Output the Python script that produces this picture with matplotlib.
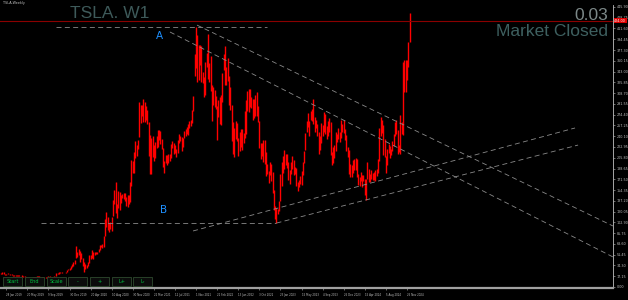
import numpy as np
import pandas as pd
import matplotlib
matplotlib.use("Agg")
import matplotlib.pyplot as plt
from matplotlib.patches import Rectangle

# weekly (low, high) of TSLA
bars_2019 = [(19.9, 22.4), (20.9, 23.3), (19.9, 23.2), (19.3, 20.6), (19.0, 21.3), (20.2, 21.6),
             (20.0, 20.8), (19.5, 20.7), (18.9, 20.3), (18.3, 19.3), (18.2, 19.5), (17.3, 18.6),
             (17.5, 18.8), (17.3, 19.3), (17.7, 18.6), (17.4, 18.3), (16.2, 18.4), (15.9, 17.3),
             (15.2, 17.2), (13.8, 16.2), (12.9, 14.3), (11.8, 13.4), (12.2, 14.0), (13.5, 14.6),
             (14.3, 15.2), (14.3, 15.3), (14.6, 16.2), (15.2, 16.8), (16.2, 17.6), (14.7, 17.5),
             (15.2, 16.3), (14.6, 16.0), (14.2, 15.3), (13.8, 15.0), (14.2, 15.2), (14.6, 15.8),
             (15.3, 16.8), (15.6, 16.9), (15.2, 16.5), (14.9, 16.2), (15.5, 16.8), (16.8, 17.9),
             (16.9, 22.6), (20.4, 21.9), (20.7, 23.1), (22.1, 23.6), (21.5, 24.1), (21.8, 22.6),
             (21.6, 23.0), (22.4, 24.4), (24.0, 27.3), (27.1, 29.0)]
bars_2020 = [(27.4, 30.3), (29.3, 33.0), (32.0, 35.9), (33.6, 39.6), (35.9, 43.5), (46.2, 64.6),
             (48.0, 55.2), (50.7, 61.2), (40.5, 57.8), (44.5, 54.4), (33.5, 46.5), (23.4, 40.5),
             (28.0, 37.3), (29.8, 35.6), (33.1, 40.5), (38.6, 51.3), (44.8, 51.0), (45.9, 58.5),
             (45.3, 55.0), (51.5, 55.4), (52.0, 55.5), (52.7, 56.3), (55.4, 60.6), (58.3, 67.0),
             (63.2, 67.5), (61.3, 67.7), (64.0, 81.0), (80.5, 108.9), (95.0, 119.7), (91.1, 111.6),
             (88.0, 102.2), (93.0, 103.6), (88.6, 111.8), (112.5, 137.9), (132.6, 154.6), (117.3, 167.5),
             (110.0, 132.0), (126.4, 152.6), (121.9, 151.9), (133.1, 146.7), (141.0, 148.5), (140.0, 149.6),
             (136.7, 149.8), (128.8, 142.6), (127.6, 146.7), (132.8, 146.7), (136.0, 167.5), (161.5, 202.3),
             (182.0, 201.4), (181.0, 215.4), (206.0, 232.4), (208.7, 226.0), (220.4, 233.7)]
bars_2021 = [(239.1, 294.8), (261.0, 290.1), (272.3, 289.0), (262.0, 300.1), (263.3, 294.0), (266.0, 288.7),
             (259.0, 282.2), (208.3, 262.6), (179.8, 241.8), (180.0, 237.4), (206.6, 240.1), (200.0, 225.6),
             (205.0, 231.3), (222.0, 240.4), (222.2, 250.0), (233.3, 249.6), (227.3, 248.7), (219.5, 235.3),
             (190.6, 222.0), (182.3, 201.4), (197.2, 210.3), (195.0, 210.5), (197.7, 212.2), (200.0, 211.0),
             (206.0, 228.0), (221.7, 232.2), (211.0, 229.4), (213.1, 226.0), (206.8, 219.0), (214.0, 233.3),
             (228.6, 243.3), (233.2, 240.0), (216.3, 239.5), (222.3, 238.0), (236.9, 247.6), (240.5, 251.5),
             (243.3, 255.2), (242.2, 259.0), (252.5, 264.2), (256.3, 265.2), (260.6, 281.1), (280.7, 304.9),
             (336.5, 371.7), (349.2, 414.5), (326.2, 401.0), (330.0, 385.7), (353.0, 386.1), (326.3, 384.3),
             (325.0, 342.0), (302.0, 334.5), (305.3, 358.3), (351.0, 371.9)]
bars_2022 = [(331.3, 402.7), (326.0, 357.3), (312.5, 367.3), (264.0, 321.7), (290.0, 318.5), (286.3, 313.0),
             (283.1, 304.5), (233.3, 287.8), (270.4, 298.0), (260.2, 302.7), (258.0, 306.3), (294.0, 340.6),
             (345.2, 371.6), (322.0, 384.3), (321.0, 350.6), (327.8, 364.1), (290.3, 335.7), (282.5, 318.5),
             (233.0, 290.0), (212.0, 262.0), (206.9, 253.3), (235.0, 264.2), (233.0, 261.9), (208.7, 237.2),
             (217.1, 247.0), (222.3, 252.1), (218.0, 252.0), (228.5, 244.7), (237.2, 280.8), (243.4, 298.3),
             (280.4, 311.9), (279.3, 314.7), (286.8, 314.7), (285.0, 302.9), (266.2, 299.0), (268.8, 299.9),
             (271.8, 305.5), (271.6, 309.7), (262.5, 288.5), (221.9, 264.6), (203.5, 229.5), (208.0, 229.8),
             (198.6, 233.8), (196.2, 234.6), (177.1, 214.8), (180.2, 196.2), (166.2, 185.2), (178.6, 199.0),
             (168.3, 196.2), (150.0, 182.5), (122.3, 155.2), (108.2, 128.6)]
bars_2023 = [(101.8, 125.9), (115.6, 124.1), (121.0, 136.7), (137.0, 180.7), (161.0, 199.0), (181.0, 207.8),
             (187.6, 217.6), (195.0, 211.0), (189.4, 211.2), (169.8, 198.6), (163.9, 186.2), (180.0, 199.3),
             (188.1, 207.8), (179.1, 202.7), (180.1, 190.7), (160.7, 189.7), (152.4, 166.9), (158.8, 170.4),
             (164.3, 177.1), (163.1, 184.7), (179.0, 198.6), (197.2, 217.3), (218.7, 245.2), (246.3, 263.6),
             (254.6, 277.0), (240.5, 264.5), (265.6, 281.0), (264.6, 284.2), (259.6, 299.3), (247.4, 270.6),
             (253.0, 266.5), (240.2, 259.0), (212.4, 246.3), (217.4, 240.8), (230.0, 261.2), (241.0, 257.5),
             (246.3, 279.0), (243.8, 275.9), (235.3, 256.6), (240.0, 263.6), (246.0, 268.9), (210.4, 262.3),
             (194.1, 215.7), (197.9, 222.7), (205.7, 226.4), (216.5, 246.8), (231.0, 244.0), (235.9, 252.8),
             (231.3, 246.4), (237.5, 265.1), (247.0, 258.9), (245.0, 265.1)]
bars_2024 = [(234.0, 251.2), (216.9, 242.7), (207.6, 223.3), (180.1, 217.8), (175.0, 196.4), (175.0, 194.1),
             (182.0, 203.0), (186.6, 204.5), (187.0, 206.0), (175.0, 204.5), (162.5, 180.5), (160.5, 175.2),
             (168.4, 182.7), (159.0, 179.0), (168.5, 178.8), (146.2, 172.0), (138.8, 172.2), (171.3, 198.9),
             (167.0, 187.9), (167.4, 179.4), (172.1, 186.8), (170.9, 181.5), (170.1, 182.4), (168.8, 186.0),
             (177.0, 187.2), (181.0, 203.1), (201.1, 252.4), (239.8, 271.0), (244.5, 266.4), (209.9, 258.0),
             (206.2, 235.0), (182.0, 208.4), (194.0, 219.1), (214.0, 228.2), (205.3, 224.0), (209.7, 219.9),
             (216.4, 232.7), (225.0, 244.0), (241.0, 262.9), (243.5, 265.3), (212.1, 249.8), (214.4, 226.3),
             (212.1, 273.5), (243.8, 262.1), (241.6, 358.6), (311.0, 361.5), (310.0, 361.9), (330.0, 361.9),
             (351.0, 389.5), (389.4, 436.3)]

first_week = "2018-12-31"
current_price = 424.0

# trend lines as (bar index, price) pairs
level_a = [(42, 414.5), (202, 414.5)]
level_b = [(30, 101.8), (209, 101.8)]
channel_down = [[(148.7, 417.0), (464.3, 97.1)], [(128.2, 406.0), (464.3, 47.8)]]
channel_up = [[(209, 101.8), (437.8, 226.0)], [(145.7, 89.2), (435.5, 253.2)]]
buttons = ["Start", "End", "Scale", "-", "+", "L+", "L-"]

bars = bars_2019 + bars_2020 + bars_2021 + bars_2022 + bars_2023 + bars_2024
lows = np.array([b[0] for b in bars])
highs = np.array([b[1] for b in bars])
idx = np.arange(len(bars))
dates = pd.date_range(first_week, periods=len(bars), freq="W-MON")

W, H = 628, 300
fig = plt.figure(figsize=(W / 100, H / 100), dpi=100, facecolor="black")
ax = fig.add_axes([0, 12 / H, 613 / W, 283 / H], facecolor="black")

ax.vlines(idx, lows, highs, color="#ff0000", lw=1.0)
ax.set_xlim(-0.76, 464.3)
ax.set_ylim(-1.6, 449)

grey = "#8a8a8a"
for seg in [level_a, level_b] + channel_down + channel_up:
    xs, ys = zip(*seg)
    ax.plot(xs, ys, color=grey, lw=0.6, ls=(0, (6, 4)))

ax.axhline(current_price, color="#8b0000", lw=0.8)
ax.text(120.5, 400, "A", color="#1e90ff", fontsize=7.5, ha="center", va="center")
ax.text(123.5, 122, "B", color="#1e90ff", fontsize=7.5, ha="center", va="center")

for s in ["top", "left"]:
    ax.spines[s].set_visible(False)
ax.spines["right"].set_color("#c0c0c0")
ax.spines["right"].set_linewidth(0.6)
ax.spines["bottom"].set_color("#a0a0a0")
ax.spines["bottom"].set_linewidth(1.6)

ax.yaxis.tick_right()
yt = np.arange(0, 446, 17.15)
ax.set_yticks(yt, [f"{v:.2f}" for v in yt])
ax.tick_params(axis="y", labelsize=2.4, colors="#c0c0c0", length=1.5, width=0.4, pad=1)
xt = idx[4::16]
ax.set_xticks(xt, [f"{d.day} {d:%b %Y}" for d in dates[xt]])
ax.tick_params(axis="x", labelsize=1.9, colors="#c0c0c0", length=1.5, width=0.4, pad=2)
for lbl in ax.get_xticklabels():
    lbl.set_ha("left")

# price tag on the axis
ax.text(1.002, current_price, f"{current_price:.2f}", transform=ax.get_yaxis_transform(),
        fontsize=2.4, color="white", va="center", ha="left",
        bbox=dict(boxstyle="square,pad=0.2", fc="#e00000", ec="none"))

def px(x, y):
    return x / W, 1 - y / H

fig.text(*px(110, 13), "TSLA. W1", family="Liberation Sans", fontsize=12.5,
         color="#3e5a5a", ha="center", va="center")
fig.text(*px(608, 15), "0.03", family="Liberation Sans", fontsize=12.5,
         color="#7c8888", ha="right", va="center")
fig.text(*px(608, 32), "Market Closed", family="Liberation Sans", fontsize=12.5,
         color="#3e6060", ha="right", va="center")
fig.text(*px(3, 3), "TSLA,Weekly", fontsize=2.4, color="#c0c0c0", ha="left", va="center")

bx = [3, 25, 47, 68, 90, 112, 133]
for x0, name in zip(bx, buttons):
    fig.patches.append(Rectangle(px(x0, 286), 19 / W, 9 / H, transform=fig.transFigure,
                                 fc="#0b0b0b", ec="#2e4a2e", lw=0.6))
    fig.text(*px(x0 + 9.5, 281.5), name, fontsize=3.6, color="#00c040",
             ha="center", va="center")

fig.savefig("out.png", dpi=100, facecolor="black")
